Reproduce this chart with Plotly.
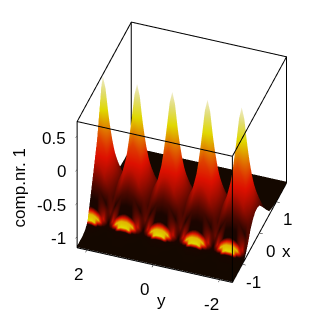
import plotly.graph_objects as go

x_vals = [-1.6,-1.25,-1.1,-1.0,-.95,-.91,-.85,-.7,-.55,-.4,-.28,-.15,-.02,.15,.35,.55,.75,.95,1.2,1.6]
y_vals = [-2.4,-2.31,-2.18,-2.09,-2.01,-1.93,-1.85,-1.77,-1.68,-1.55,-1.415,-1.28,-1.15,-1.06,-.98,-.9,-.82,-.74,-.65,-.52,
          -.37,-.22,-.09,0,.08,.16,.24,.32,.41,.54,.69,.84,.97,1.06,1.14,1.22,1.3,1.38,1.47,1.6,1.735,1.87,2.0,2.09,2.17,2.25,2.3]
column_kind = [5,4,3,2,1,0,1,2,3,4,5,4,3,2,1,0,1,2,3,4,5,4,3,2,1,0,1,2,3,4,5,4,3,2,1,0,1,2,3,4,5,4,3,2,1,0,1]

z_apex     = [-1.15,-1.15,-1.13,-1.09,-1.05,-.98,-.88,-.62,-.35,-.05,.3,.72,.1,-.4,-.75,-1.0,-1.12,-1.14,-1.15,-1.15]
z_near     = [-1.15,-1.15,-1.13,-1.09,-1.05,-.98,-.89,-.64,-.38,-.12,.2,.55,.05,-.42,-.76,-1.0,-1.12,-1.14,-1.15,-1.15]
z_flank    = [-1.15,-1.15,-1.14,-1.10,-1.07,-1.0,-.91,-.68,-.45,-.22,0,.2,-.1,-.48,-.78,-1.02,-1.12,-1.14,-1.15,-1.15]
z_lower    = [-1.15,-1.15,-1.14,-1.12,-1.10,-1.04,-.96,-.76,-.56,-.4,-.32,-.29,-.36,-.6,-.85,-1.05,-1.13,-1.14,-1.15,-1.15]
z_shoulder = [-1.15,-1.15,-1.15,-1.14,-1.13,-1.09,-1.04,-.88,-.72,-.62,-.58,-.58,-.62,-.74,-.93,-1.08,-1.13,-1.14,-1.15,-1.15]
z_valley   = [-1.15,-1.15,-1.15,-1.15,-1.15,-1.14,-1.11,-1.0,-.86,-.77,-.73,-.72,-.75,-.85,-.98,-1.1,-1.13,-1.14,-1.15,-1.15]
z_kinds = [z_apex,z_near,z_flank,z_lower,z_shoulder,z_valley]

c_apex     = [-1.15,-1.13,-1.1,-.95,.25,.12,-1.0,-.78,-.45,-.22,.25,.72,.1,-.4,-.75,-1.0,-1.12,-1.14,-1.15,-1.15]
c_near     = [-1.15,-1.13,-1.1,-.95,.25,.12,-1.0,-.78,-.47,-.26,.15,.55,.05,-.42,-.76,-1.0,-1.12,-1.14,-1.15,-1.15]
c_flank    = [-1.15,-1.13,-1.1,-.98,.18,.15,-1.0,-.8,-.5,-.32,-.05,.2,-.1,-.48,-.78,-1.02,-1.12,-1.14,-1.15,-1.15]
c_lower    = [-1.15,-1.15,-1.12,-1.08,-.85,.18,-.75,-.85,-.55,-.42,-.36,-.33,-.36,-.6,-.85,-1.05,-1.13,-1.14,-1.15,-1.15]
c_shoulder = [-1.15,-1.15,-1.13,-1.12,-1.08,-.75,-.45,-.9,-.7,-.6,-.56,-.56,-.62,-.74,-.93,-1.08,-1.13,-1.14,-1.15,-1.15]
c_valley   = [-1.15,-1.15,-1.15,-1.14,-1.13,-1.12,-1.0,-.7,-.82,-.77,-.73,-.72,-.75,-.85,-.98,-1.1,-1.13,-1.14,-1.15,-1.15]
c_kinds = [c_apex,c_near,c_flank,c_lower,c_shoulder,c_valley]

x_range = [-1.6,1.6]
y_range = [-2.4,2.3]
z_range = [-1.17,.72]
x_ticks = [-1,0,1]; x_labels = ["-1","0","1"]
y_ticks = [-2,0,2]; y_labels = ["-2","0","2"]
z_ticks = [-1,-.5,0,.5]; z_labels = ["-1","-0.5","0","0.5"]

# rows follow y, columns follow x
z_matrix = [z_kinds[k] for k in column_kind]
c_matrix = [c_kinds[k] for k in column_kind]

hot = [[0,"#140800"],[.12,"#1c0500"],[.4,"#dd1000"],[.56,"#e06a00"],[.74,"#e0d800"],[.88,"#e0dc70"],[1,"#f0ecc8"]]
font = dict(family="Liberation Sans", size=17, color="black")

def axis(vals, rng):
    return dict(title=dict(text=""), range=rng, tickmode="array", tickvals=vals, showticklabels=False,
                showgrid=False, zeroline=False, showbackground=False, showline=False,
                ticks="outside", ticklen=3, tickcolor="black", showspikes=False)

x0,x1 = x_range; y0,y1 = y_range; z0,z1 = z_range
# box edges sit a hair inside the axis ranges so the scene does not clip them
ex = (x1-x0)*.003; ey = (y1-y0)*.003; ez = (z1-z0)*.003
bx0,bx1,by0,by1,bz0,bz1 = x0+ex,x1-ex,y0+ey,y1-ey,z0+ez,z1-ez
path = [(bx0,by0,bz0),(bx1,by0,bz0),(bx1,by1,bz0),(bx0,by1,bz0),(bx0,by0,bz0),(bx0,by0,bz1),(bx1,by0,bz1),(bx1,by0,bz0),(bx1,by0,bz1),
        (bx1,by1,bz1),(bx1,by1,bz0),(bx1,by1,bz1),(bx0,by1,bz1),(bx0,by1,bz0),(bx0,by1,bz1),(bx0,by0,bz1)]

fig = go.Figure()
fig.add_trace(go.Surface(x=x_vals, y=y_vals, z=z_matrix, surfacecolor=c_matrix,
               colorscale=hot, cmin=-1.15, cmax=.72, showscale=False, hoverinfo="skip",
               lighting=dict(ambient=1, diffuse=0, specular=0, roughness=1, fresnel=0)))
fig.add_trace(go.Scatter3d(x=[p[0] for p in path], y=[p[1] for p in path], z=[p[2] for p in path],
                           mode="lines", line=dict(color="black", width=2), hoverinfo="skip"))

def note(x, y, z, text, dx, dy, **kw):
    return dict(x=x, y=y, z=z, text=text, showarrow=False, font=font, xshift=dx, yshift=dy, **kw)

anns = []
for v,t in zip(z_ticks,z_labels):
    anns.append(note(x0,y1,v,t,-9,-2,xanchor="right"))
for v,t in zip(y_ticks,y_labels):
    anns.append(note(x0,v,z0,t,-8,-24))
for v,t in zip(x_ticks,x_labels):
    anns.append(note(v,y0,z0,t,11,-18))
anns.append(note(x0,-.3,z0,"y",-1,-33))
anns.append(note(0,y0,z0,"x",27,-18))
anns.append(note(x0,y1,-.225,"comp.nr. 1",-57,-3,textangle=-90))

cx,cy,cz = -.0839,.0773,-.0645
n = (-.725,-.253,.641); dist = 1.81
fig.update_layout(width=316, height=315, margin=dict(l=0,r=0,t=0,b=0), paper_bgcolor="white", showlegend=False,
    scene=dict(
        xaxis=axis(x_ticks, x_range),
        yaxis=axis(y_ticks, y_range),
        zaxis=axis(z_ticks, z_range),
        aspectmode="manual", aspectratio=dict(x=1.05,y=1.05,z=1.05), annotations=anns,
        camera=dict(projection=dict(type="orthographic"), eye=dict(x=cx+dist*n[0],y=cy+dist*n[1],z=cz+dist*n[2]), center=dict(x=cx,y=cy,z=cz), up=dict(x=0,y=0,z=1)),
    ))
fig.write_html("out.html")
